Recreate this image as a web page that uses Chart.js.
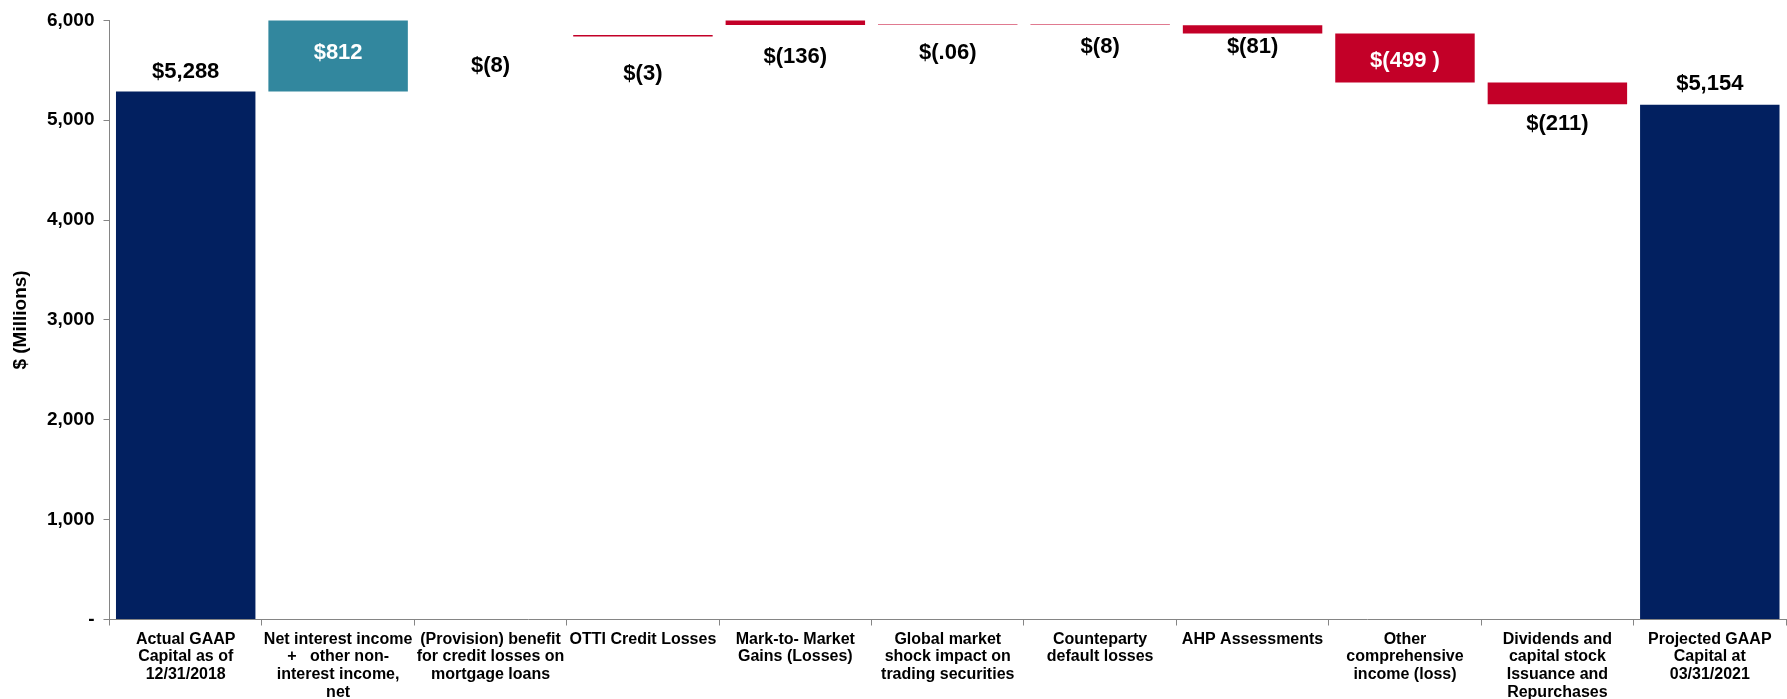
<!DOCTYPE html>
<html>
<head>
<meta charset="utf-8">
<title>GAAP Capital waterfall</title>
<script src="https://cdn.jsdelivr.net/npm/chart.js@4.4.1/dist/chart.umd.min.js"></script>
<style>
  html, body { margin: 0; padding: 0; background: #ffffff; }
  #wrap { width: 1787px; height: 699px; position: relative; }
</style>
</head>
<body>
<div id="wrap"><canvas id="chWaterfall"></canvas></div>
<script>
// categories (multi-line, as wrapped in the picture)
const categories = [
  ["Actual GAAP", "Capital as of", "12/31/2018"],
  ["Net interest income", "+   other non-", "interest income,", "net"],
  ["(Provision) benefit", "for credit losses on", "mortgage loans"],
  ["OTTI Credit Losses"],
  ["Mark-to- Market", "Gains (Losses)"],
  ["Global market", "shock impact on", "trading securities"],
  ["Counteparty", "default losses"],
  ["AHP Assessments"],
  ["Other", "comprehensive", "income (loss)"],
  ["Dividends and", "capital stock", "Issuance and", "Repurchases"],
  ["Projected GAAP", "Capital at", "03/31/2021"]
];

// floating bar ends ($ millions)
const barLow  = [0, 5288, 6092, 5838, 5953, 5955, 5955, 5869, 5378, 5160, 0];
const barHigh = [5288, 6100, 6100, 5855, 6089, 5965, 5965, 5951, 5869, 5377, 5154];

// value labels
const valueLabels = ["$5,288", "$812", "$(8)", "$(3)", "$(136)", "$(.06)", "$(8)", "$(81)", "$(499 )", "$(211)", "$5,154"];

// y axis ticks
const yTicks = [0, 1000, 2000, 3000, 4000, 5000, 6000];

// styling
const navy = "#022060";
const teal = "#32879E";
const red = "#C30028";
const pink = "#E07A90";
const axisGray = "#858585";
const barColors = [navy, teal, red, red, red, pink, pink, red, red, red, navy];
const labelColors = ["#000", "#fff", "#000", "#000", "#000", "#000", "#000", "#000", "#fff", "#000", "#000"];
// where each label sits: against the visible bar top, bottom or centre, then shifted (px)
const labelAnchor = ["top", "center", "bottom", "bottom", "bottom", "bottom", "bottom", "bottom", "center", "bottom", "top"];
const labelShift = [-20, -3, 46, 37, 32, 28, 22, 13, 3, 20, -21];

const fontFamily = "'Liberation Sans', Arial, Helvetica, sans-serif";
Chart.defaults.font.family = fontFamily;
Chart.defaults.color = "#000";

let floatingData = barLow.map(function (lo, i) {
  return [lo, barHigh[i]];
});

// draws the $ labels next to / inside bars
const valueLabelPlugin = {
  id: "valueLabels",
  afterDatasetsDraw(chart) {
    const c = chart.ctx;
    const area = chart.chartArea;
    const meta = chart.getDatasetMeta(0);
    c.save();
    c.font = "bold 22px " + fontFamily;
    c.textAlign = "center";
    c.textBaseline = "middle";
    meta.data.forEach(function (bar, i) {
      let top = Math.max(Math.min(bar.y, bar.base), area.top);
      let bottom = Math.max(Math.min(Math.max(bar.y, bar.base), area.bottom), area.top);
      let y;
      if (labelAnchor[i] == "top") y = top;
      else if (labelAnchor[i] == "bottom") y = bottom;
      else y = (top + bottom) / 2;
      c.fillStyle = labelColors[i];
      c.fillText(valueLabels[i], bar.x, y + labelShift[i]);
    });
    c.restore();
  }
};

let chWaterfall = new Chart(document.getElementById("chWaterfall"), {
  type: "bar",
  data: {
    labels: categories,
    datasets: [
      {
        data: floatingData,
        backgroundColor: barColors,
        borderWidth: 0,
        barPercentage: 0.915,
        categoryPercentage: 1.0,
        clip: 0
      }
    ]
  },
  options: {
    responsive: true,
    maintainAspectRatio: false,
    animation: false,
    layout: { padding: { top: 14.5, right: 1, bottom: 0, left: 0 } },
    plugins: {
      legend: { display: false },
      tooltip: { enabled: false }
    },
    scales: {
      x: {
        ticks: {
          color: "#000",
          font: { size: 16, weight: "bold", lineHeight: 1.1 },
          padding: 5,
          maxRotation: 0,
          autoSkip: false
        },
        grid: { drawOnChartArea: false, drawTicks: true, tickLength: 6, color: axisGray, offset: true },
        border: { color: axisGray },
        afterFit: function (s) { s.height = 79.5; }
      },
      y: {
        min: 0,
        max: 6000,
        afterBuildTicks: function (axis) {
          axis.ticks = yTicks.map(function (v) { return { value: v }; });
        },
        ticks: {
          color: "#000",
          font: { size: 19, weight: "bold" },
          padding: 9,
          callback: function (v) { return v === 0 ? "-" : v.toLocaleString("en-US"); }
        },
        grid: { drawOnChartArea: false, drawTicks: true, tickLength: 6, color: axisGray },
        border: { color: axisGray },
        title: {
          display: true,
          text: "$ (Millions)",
          color: "#000",
          font: { size: 19, weight: "bold" },
          padding: { top: 9, bottom: 0 }
        },
        afterFit: function (s) { s.width = 109.5; }
      }
    }
  },
  plugins: [valueLabelPlugin]
});
</script>
</body>
</html>
